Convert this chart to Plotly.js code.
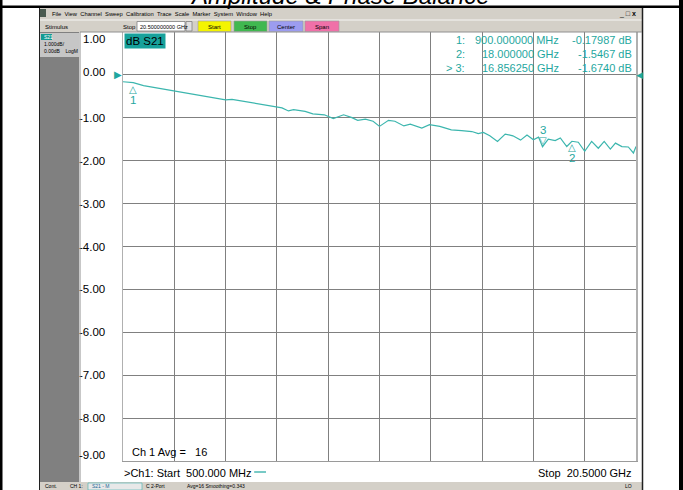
<!DOCTYPE html>
<html><head><meta charset="utf-8">
<script src="https://cdn.plot.ly/plotly-3.0.1.min.js"></script>
<style>html,body{margin:0;padding:0;background:#fff;overflow:hidden}#chart{width:683px;height:490px}</style>
</head><body><div id="chart"></div>
<script>
// ---- data ----
const freqGHz = [0.5,0.9,1.3,1.7,2.1,2.5,3.0,3.5,4.0,4.2,4.5,4.75,5.2,5.65,6.05,6.5,6.7,6.95,7.15,7.6,7.9,8.35,8.7,9.1,9.4,9.65,9.95,10.25,10.5,10.85,11.1,11.45,11.7,12.15,12.45,12.85,13.3,13.7,14.1,14.35,14.55,14.8,15.1,15.4,15.7,16.0,16.25,16.5,16.7,16.856,17.08,17.35,17.55,17.8,18.0,18.25,18.5,18.77,19.03,19.26,19.5,19.7,19.95,20.2,20.4,20.5];
const s21dB = [-0.16,-0.18,-0.25,-0.29,-0.33,-0.37,-0.42,-0.47,-0.52,-0.54,-0.58,-0.57,-0.62,-0.66,-0.71,-0.76,-0.77,-0.84,-0.81,-0.85,-0.91,-0.93,-1.02,-0.93,-0.99,-1.06,-1.03,-1.08,-1.20,-1.06,-1.08,-1.19,-1.15,-1.24,-1.16,-1.20,-1.28,-1.30,-1.32,-1.37,-1.34,-1.42,-1.55,-1.38,-1.42,-1.52,-1.40,-1.51,-1.45,-1.674,-1.50,-1.53,-1.47,-1.67,-1.547,-1.57,-1.78,-1.55,-1.71,-1.55,-1.73,-1.59,-1.67,-1.68,-1.82,-1.67];
const yTickVals = [1,0,-1,-2,-3,-4,-5,-6,-7,-8,-9];
const yTickText = ['1.00','0.00','-1.00','-2.00','-3.00','-4.00','-5.00','-6.00','-7.00','-8.00','-9.00'];
const xTickVals = [0.5,2.5,4.5,6.5,8.5,10.5,12.5,14.5,16.5,18.5,20.5];
const markerNames = ['1','2','3'];
const markerFreqGHz = [0.9,18.0,16.85625];
const markerDB = [-0.17987,-1.5467,-1.6740];
const markerFreqText = ['900.000000 MHz','18.000000 GHz','16.856250 GHz'];
const markerValText = ['-0.17987 dB','-1.5467 dB','-1.6740 dB'];
const activeMarker = 2;
const menuItems = ['File','View','Channel','Sweep','Calibration','Trace','Scale','Marker','System','Window','Help'];
const buttonLabels = ['Start','Stop','Center','Span'];

// ---- layout helpers (pixel -> paper) ----
const L=123,R=636,T=32,B=461;
const px = x => (x-L)/(R-L);
const py = y => (B-y)/(B-T);
const FONT = 'Liberation Sans, Arial, sans-serif';
const TEAL = '#1fa7a0';
const shapes = [];
const rect = (x0,y0,x1,y1,fill,lc,lw) => shapes.push({type:'rect',xref:'paper',yref:'paper',x0:px(x0),x1:px(x1),y0:py(y0),y1:py(y1),fillcolor:fill,line:{color:lc||fill,width:lw===undefined?0:lw},layer:'above'});
const line = (x0,y0,x1,y1,c,w) => shapes.push({type:'line',xref:'paper',yref:'paper',x0:px(x0),x1:px(x1),y0:py(y0),y1:py(y1),line:{color:c,width:w},layer:'above'});
const anns = [];
const txt = (t,x,y,size,color,xa,opts) => anns.push(Object.assign({text:t,xref:'paper',yref:'paper',x:px(x),y:py(y),xanchor:xa||'left',yanchor:'middle',showarrow:false,font:{family:FONT,size:size,color:color||'#000'}},opts||{}));

// frame
rect(0,0,2.5,490,'#000');
rect(679,0,683,490,'#000');
rect(0,5.5,683,8,'#000');
// window chrome
rect(39,8,643,20,'#d4d0c8');
rect(39,20,643,32,'#d4d0c8');
line(39,20,643,20,'#ffffff',0.8);
rect(40,32,79,482,'#808080');
rect(40,33,79,57,'#c6c6c6');
rect(39,482,643,490,'#d4d0c8');
line(39.5,8,39.5,490,'#202020',1);
line(642.5,8,642.5,490,'#202020',1.5);
line(80,32,80,482,'#909090',1);
line(80,32,642,32,'#909090',1);
// menu
rect(40,9,46,17,'#4a5a50');
txt(menuItems.join('&nbsp;&nbsp;'),50,13.5,5.8,'#000');
txt('_ <b>&#9633;</b> <b>x</b>',617,14,7,'#000','left');
// toolbar
txt('Stimulus',43,26.5,6,'#000');
txt('Stop',121,26.5,6,'#000');
rect(137,21.5,185,31,'#ffffff','#808080',0.8);
txt('20.500000000 GHz',138,26.5,5.5,'#000');
rect(186,21.5,192,31,'#e0e0e0','#808080',0.8);
const btnX = [[198,231,'#f4f400'],[234,267,'#40b850'],[269,303,'#9c9cf0'],[305,339,'#f070a8']];
buttonLabels.forEach((b,i)=>{ rect(btnX[i][0],21,btnX[i][1],31.5,btnX[i][2],'#9a9a9a',0.6); txt(b,(btnX[i][0]+btnX[i][1])/2,26.5,6,'#000','center'); });
// left panel
rect(41,34,52,40,'#149a92');
txt('S21',41.5,37,5,'#fff');
txt('1.000dB/',41.5,44.5,5,'#000');
txt('0.00dB&nbsp;&nbsp;&nbsp;&nbsp;LogM',41.5,50.5,5,'#000');
// status bar
txt('Cont.',43,486.5,5,'#000');
txt('CH 1:',68,486.5,5,'#000');
rect(88,483,142,490,'#e8e8e8','#40b0b0',0.6);
txt('S21 - M',90,486.5,5,'#1a6a9a');
txt('C 2-Port',144,486.5,5,'#000');
txt('Avg=16 Smoothing=0.343',185,486.5,5,'#000');
txt('LO',623,486.5,5,'#000');
// title (cut off at top, as in the reference)
txt('<i>Amplitude &amp; Phase Balance</i>',340,-4,24,'#000','center');
// in-plot labels
txt('dB S21',124,40.5,11.5,'#000','left',{bgcolor:'#17a19b',borderpad:1});
markerNames.forEach((m,i)=>{
  const lab = (i===activeMarker?'&gt; ':'')+m+':';
  txt(lab,467,40+i*14,11,TEAL,'right');
  txt(markerFreqText[i],561,40+i*14,11,TEAL,'right');
  txt(markerValText[i],634,40+i*14,11,TEAL,'right');
});
txt('Ch 1 Avg =&nbsp;&nbsp;&nbsp;16',130,452,11,'#000','left');
txt('&gt;Ch1: Start  500.000 MHz',122,473,11,'#000','left');
line(254,472,266,472,TEAL,1.2);
txt('Stop  20.5000 GHz',634,473,11,'#000','right');
// tick labels that sit off their grid line in the reference
const shiftedTicks = {'1.00':-7,'0.00':3,'-9.00':6};
const tickTextShown = yTickText.map(t => (t in shiftedTicks) ? '' : t);
yTickVals.forEach((v,i)=>{
  const t = yTickText[i];
  if (t in shiftedTicks) anns.push({text:t,xref:'paper',yref:'y',x:0,y:v,xanchor:'right',yanchor:'middle',xshift:-16,yshift:shiftedTicks[t],showarrow:false,font:{family:FONT,size:11.5,color:'#000'}});
});
// reference level arrows
anns.push({text:'&#9654;',xref:'paper',yref:'y',x:0,y:0,xanchor:'right',yanchor:'middle',showarrow:false,xshift:1,font:{family:'DejaVu Sans',size:10,color:TEAL}});
anns.push({text:'&#9664;',xref:'paper',yref:'y',x:1,y:0,xanchor:'left',yanchor:'middle',showarrow:false,xshift:-2,font:{family:'DejaVu Sans',size:9,color:TEAL}});
// trace markers
markerNames.forEach((m,i)=>{
  const up = i!==activeMarker;
  anns.push({text:up?'&#9651;':'&#9661;',xref:'x',yref:'y',x:markerFreqGHz[i],y:markerDB[i],xanchor:'center',yanchor:up?'top':'bottom',yshift:up?1:-1,showarrow:false,font:{family:'DejaVu Sans',size:10,color:TEAL}});
  anns.push({text:m,xref:'x',yref:'y',x:markerFreqGHz[i],y:markerDB[i],xanchor:'center',yanchor:up?'top':'bottom',yshift:up?-9:9,showarrow:false,font:{family:FONT,size:11.5,color:TEAL}});
});

const data = [{x:freqGHz,y:s21dB,type:'scatter',mode:'lines',line:{color:'#3cb6ae',width:1.2},hoverinfo:'skip'}];
const layout = {
  width:683,height:490,margin:{l:L,r:683-R,t:T,b:490-B,pad:0},
  paper_bgcolor:'#fff',plot_bgcolor:'#fff',showlegend:false,
  xaxis:{range:[0.5,20.5],tickvals:xTickVals,showticklabels:false,showgrid:true,gridcolor:'#808080',gridwidth:1,zeroline:false,showline:true,mirror:true,linecolor:'#9a9a9a',linewidth:1,ticks:''},
  yaxis:{range:[-9,1],tickvals:yTickVals,ticktext:tickTextShown,showgrid:true,gridcolor:'#808080',gridwidth:1,zeroline:false,showline:true,mirror:true,linecolor:'#b0b0b0',linewidth:1.5,ticks:'outside',ticklen:14,tickcolor:'rgba(0,0,0,0)',tickfont:{family:FONT,size:11.5,color:'#000'}},
  shapes:shapes,annotations:anns
};
Plotly.newPlot('chart',data,layout,{staticPlot:true,displayModeBar:false});
</script></body></html>
